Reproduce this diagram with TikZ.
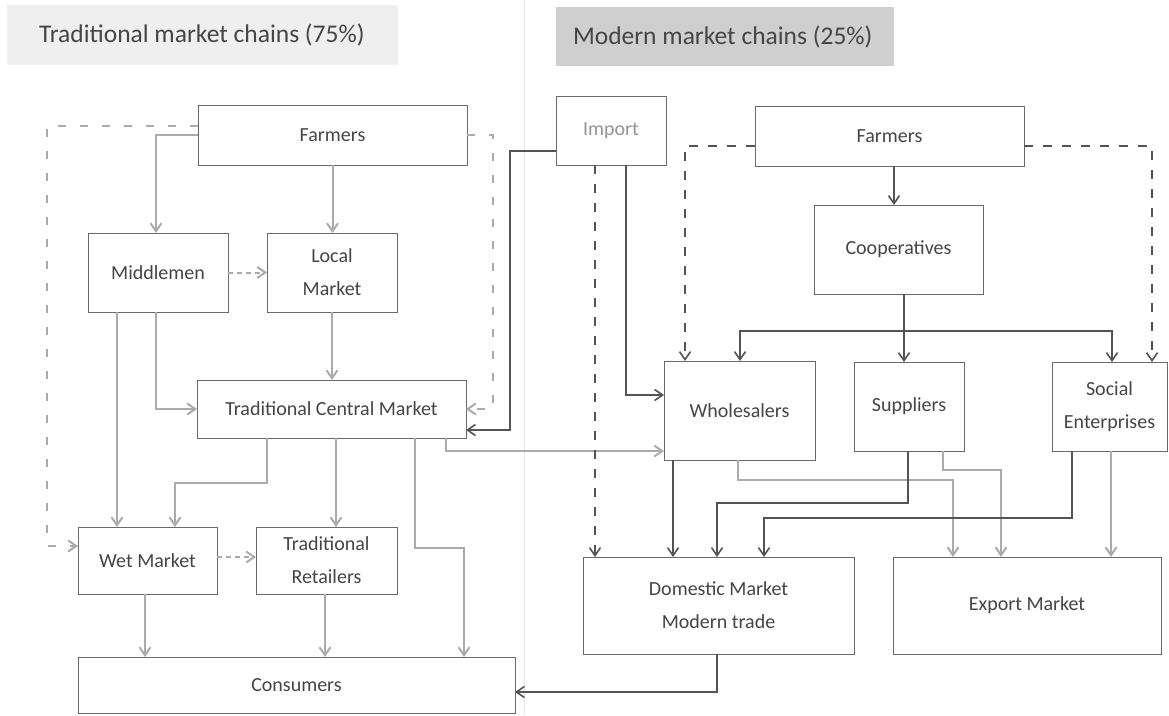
\documentclass[tikz,border=0pt]{standalone}
\usepackage{fontspec}
\setmainfont{Carlito}
\usetikzlibrary{arrows.meta}
\definecolor{boxc}{HTML}{6A6A6A}
\definecolor{txtc}{HTML}{454545}
\definecolor{lgray}{HTML}{ABABAB}
\definecolor{dgray}{HTML}{545454}
\definecolor{tone}{HTML}{EFEFEF}
\definecolor{ttwo}{HTML}{CFCFCF}
\begin{document}
\begin{tikzpicture}[x=1pt,y=-1pt,
  box/.style={draw=boxc,line width=1pt,fill=white,inner sep=0pt,outer sep=0pt,
    font=\fontsize{20}{33}\selectfont,text=txtc,align=center},
  tbox/.style={inner ysep=0pt,outer sep=0pt,font=\fontsize{25.5}{30}\selectfont,text=txtc},
  tip/.style={-{Straight Barb[length=8pt,width=11pt]}},
  garr/.style={tip,draw=lgray,line width=2pt},
  darr/.style={tip,draw=dgray,line width=1.6pt},
  gdash/.style={garr,dash pattern=on 8pt off 14pt},
  gshort/.style={garr,dash pattern=on 5pt off 4pt},
  ddash/.style={darr,dash pattern=on 9pt off 10pt}]
\useasboundingbox (0,0) rectangle (1169,715);
\fill[white] (0,0) rectangle (1169,715);
\draw[draw=black!9,line width=0.8pt] (524,0) -- (524,715);
% titles
\node[tbox,fill=tone,minimum width=391pt,minimum height=60pt,inner xsep=32pt] (t1) at (202.5,35)
  {\makebox[327pt][l]{Traditional market chains (75\%)}};
\node[tbox,fill=ttwo,minimum width=338pt,minimum height=59pt,inner xsep=17pt] (t2) at (725,36.5)
  {\makebox[304pt][l]{Modern market chains (25\%)}};
% left boxes
\node[box,minimum width=269pt,minimum height=60pt] (farmL) at (332.5,135) {Farmers};
\node[box,minimum width=140pt,minimum height=79pt] (mid) at (158,272.5) {Middlemen};
\node[box,minimum width=130pt,minimum height=79pt] (local) at (332,272.5) {Local\\Market};
\node[box,minimum width=269pt,minimum height=58pt] (tcm) at (331.5,409) {Traditional Central Market};
\node[box,minimum width=139pt,minimum height=67pt] (wet) at (147.5,560.5) {Wet Market};
\node[box,minimum width=141pt,minimum height=67pt] (tret) at (326.5,560.5) {Traditional\\Retailers};
\node[box,minimum width=437pt,minimum height=56pt] (cons) at (296.5,685) {Consumers};
% right boxes
\node[box,minimum width=110pt,minimum height=69pt,text=black!42] (import) at (611,130.5) {Import};
\node[box,minimum width=269pt,minimum height=60pt] (farmR) at (889.5,136) {Farmers};
\node[box,minimum width=169pt,minimum height=89pt] (coop) at (898.5,249.5) {Cooperatives};
\node[box,minimum width=151pt,minimum height=99pt] (whole) at (739.5,410.5) {Wholesalers};
\node[box,minimum width=110pt,minimum height=89pt] (supp) at (909,406.5) {Suppliers};
\node[box,minimum width=115pt,minimum height=89pt] (social) at (1109.5,406.5) {Social\\Enterprises};
\node[box,minimum width=271pt,minimum height=97pt] (dom) at (718.5,605.5) {Domestic Market\\Modern trade};
\node[box,minimum width=268pt,minimum height=97pt] (export) at (1027,605.5) {Export Market};
% gray connectors (left)
\draw[garr] (farmL.west) -| ([xshift=-2pt]mid.north);
\draw[garr] (farmL.south) -- (farmL.south |- local.north);
\draw[gshort] (mid.east) -- (local.west);
\draw[gdash] ([yshift=9pt]farmL.west) -- ++(-151,0) |- ([yshift=14.5pt]wet.west);
\draw[gdash] (farmL.east) -- ++(26,0) |- (tcm.east);
\draw[garr] ([xshift=-2pt]mid.south) |- (tcm.west);
\draw[garr] ([xshift=-41pt]mid.south) -- ([xshift=-30.5pt]wet.north);
\draw[garr] (local.south) -- (local.south |- tcm.north);
\draw[garr] ([xshift=-64.5pt]tcm.south) -- ++(0,45) -| ([xshift=27.5pt]wet.north);
\draw[garr] ([xshift=4.5pt]tcm.south) -- ([xshift=9.5pt]tret.north);
\draw[garr] ([xshift=83.5pt]tcm.south) -- ++(0,110) -| ([xshift=167.5pt]cons.north);
\draw[garr] ([xshift=114.5pt]tcm.south) -- ++(0,13) -- ([yshift=-40.5pt]whole.west);
\draw[gshort] ([yshift=3.5pt]wet.east) -- ([yshift=3.5pt]tret.west);
\draw[garr] ([xshift=-2.5pt]wet.south) -- ([xshift=-151.5pt]cons.north);
\draw[garr] ([xshift=-1.5pt]tret.south) -- ([xshift=28.5pt]cons.north);
% gray connectors (right)
\draw[garr] ([xshift=-1.5pt]whole.south) -- ++(0,20) -| ([xshift=-74pt]export.north);
\draw[garr] ([xshift=34pt]supp.south) -- ++(0,19) -| ([xshift=-26pt]export.north);
\draw[garr] ([xshift=1.5pt]social.south) -- ([xshift=84pt]export.north);
% dark connectors
\draw[darr] ([yshift=-20.5pt]import.west) -- ++(-46,0) |- ([yshift=-21pt]tcm.east);
\draw[ddash] ([xshift=-16pt]import.south) -- ([xshift=-123.5pt]dom.north);
\draw[darr] ([xshift=15pt]import.south) |- ([yshift=15.5pt]whole.west);
\draw[ddash] ([yshift=-10pt]farmR.west) -| ([xshift=-54.5pt]whole.north);
\draw[ddash] ([yshift=-10pt]farmR.east) -| ([xshift=42.5pt]social.north);
\draw[darr] ([xshift=4.5pt]farmR.south) -- ([xshift=-4.5pt]coop.north);
\draw[darr] ([xshift=5.5pt]coop.south) -- ([xshift=-5pt]supp.north);
\coordinate (bus) at ([xshift=5.5pt,yshift=-37pt]coop.south);
\draw[darr] (bus) -| ([xshift=0.5pt]whole.north);
\draw[darr] (bus) -| ([xshift=2.5pt]social.north);
\draw[darr] ([xshift=-66.5pt]whole.south) -- ([xshift=-45.5pt]dom.north);
\draw[darr] ([xshift=-1pt]supp.south) -- ++(0,52) -| ([xshift=-1.5pt]dom.north);
\draw[darr] ([xshift=-37.5pt]social.south) -- ++(0,67) -| ([xshift=45.5pt]dom.north);
\draw[darr] ([xshift=-1.5pt]dom.south) |- ([yshift=-7pt]cons.east);
\end{tikzpicture}
\end{document}
